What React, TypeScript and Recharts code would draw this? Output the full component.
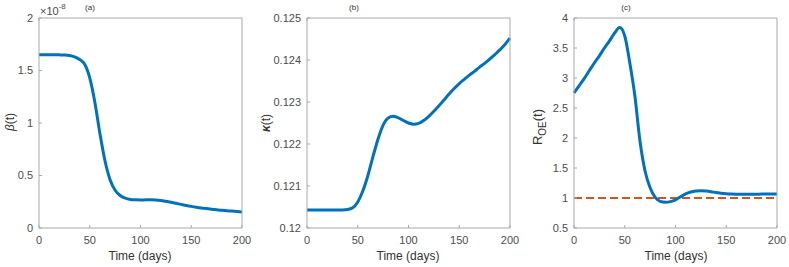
import React from 'react';
import { LineChart, Line, XAxis, YAxis, ReferenceLine } from 'recharts';

// ---- data ----
const days = [0, 5, 10, 15, 20, 25, 30, 35, 40, 45, 50, 55, 60, 65, 70, 75, 80, 85, 90, 95, 100, 105, 110, 115, 120, 125, 130, 135, 140, 145, 150, 155, 160, 165, 170, 175, 180, 185, 190, 195, 200];
// beta(t) in units of 1e-8
const betaScaled = [1.65, 1.65, 1.65, 1.65, 1.649, 1.647, 1.642, 1.63, 1.605, 1.56, 1.43, 1.2, 0.9, 0.64, 0.46, 0.36, 0.31, 0.285, 0.272, 0.268, 0.267, 0.268, 0.269, 0.267, 0.262, 0.254, 0.245, 0.235, 0.225, 0.215, 0.206, 0.198, 0.191, 0.185, 0.179, 0.174, 0.169, 0.165, 0.161, 0.157, 0.153];
const kappa = [0.12043, 0.12043, 0.12043, 0.12043, 0.12043, 0.12043, 0.12043, 0.12043, 0.12044, 0.12048, 0.12062, 0.12088, 0.12125, 0.1217, 0.12212, 0.12245, 0.12262, 0.12266, 0.12262, 0.12256, 0.1225, 0.12247, 0.12249, 0.12256, 0.12266, 0.12278, 0.12291, 0.12305, 0.12319, 0.12332, 0.12344, 0.12354, 0.12364, 0.12373, 0.12383, 0.12392, 0.12402, 0.12413, 0.12424, 0.12437, 0.12452];
const rOE = [2.75, 2.87, 2.99, 3.12, 3.25, 3.37, 3.5, 3.62, 3.75, 3.84, 3.7, 3.25, 2.7, 1.95, 1.45, 1.17, 1.01, 0.945, 0.93, 0.94, 0.97, 1.02, 1.07, 1.1, 1.115, 1.12, 1.115, 1.105, 1.09, 1.08, 1.072, 1.066, 1.063, 1.062, 1.062, 1.063, 1.064, 1.065, 1.066, 1.066, 1.065];
const threshold = 1;

const xTicks = [0, 50, 100, 150, 200];
const betaTicks = [0, 0.5, 1, 1.5, 2];
const kappaTicks = [0.12, 0.121, 0.122, 0.123, 0.124, 0.125];
const rTicks = [0.5, 1, 1.5, 2, 2.5, 3, 3.5, 4];

const betaData = days.map((d, i) => ({ day: d, v: betaScaled[i] }));
const kappaData = days.map((d, i) => ({ day: d, v: kappa[i] }));
const rData = days.map((d, i) => ({ day: d, v: rOE[i] }));

// ---- styles ----
const AXIS = '#a9a9a9';
const TICK_TEXT = '#4d4d4d';
const BLUE = '#0072BD';
const ORANGE = '#D95319';
const FONT = '"Liberation Sans", Arial, Helvetica, sans-serif';

type PanelProps = {
  data: { day: number; v: number }[];
  yDomain: [number, number];
  yTicks: number[];
  left: number;
  plotLeft: number;
  plotRight: number;
  refY?: number;
};

const tickStyle = { fill: TICK_TEXT, fontSize: 11, fontFamily: FONT };
const W = 263;
const H = 267;
const TOP = 18;
const BOTTOM = 39;

function Panel({ data, yDomain, yTicks, left, plotLeft, plotRight, refY }: PanelProps) {
  return (
    <div style={{ position: 'absolute', left, top: 0 }}>
      <LineChart width={W} height={H} data={data} margin={{ top: 0, right: 0, bottom: 0, left: 0 }}>
        <XAxis
          xAxisId="b"
          dataKey="day"
          type="number"
          domain={[0, 200]}
          ticks={xTicks}
          height={BOTTOM}
          stroke={AXIS}
          tickSize={-3}
          tickMargin={11}
          tick={tickStyle}
          interval={0}
        />
        <XAxis
          xAxisId="t"
          orientation="top"
          type="number"
          domain={[0, 200]}
          ticks={xTicks}
          height={TOP}
          stroke={AXIS}
          tickSize={-3}
          tickFormatter={() => ''}
          interval={0}
        />
        <YAxis
          yAxisId="l"
          type="number"
          domain={yDomain}
          ticks={yTicks}
          width={plotLeft}
          stroke={AXIS}
          tickSize={-3}
          tickMargin={9}
          tick={tickStyle}
          interval={0}
        />
        <YAxis
          yAxisId="r"
          orientation="right"
          type="number"
          domain={yDomain}
          ticks={yTicks}
          width={W - plotRight}
          stroke={AXIS}
          tickSize={-3}
          tickFormatter={() => ''}
          interval={0}
        />
        {refY !== undefined && (
          <ReferenceLine
            xAxisId="b"
            yAxisId="l"
            y={refY}
            stroke={ORANGE}
            strokeWidth={2}
            strokeDasharray="8 4"
          />
        )}
        <Line
          xAxisId="b"
          yAxisId="l"
          type="monotone"
          dataKey="v"
          stroke={BLUE}
          strokeWidth={3}
          dot={false}
          isAnimationActive={false}
        />
      </LineChart>
    </div>
  );
}

export default function App() {
  return (
    <div style={{ position: 'absolute', left: 0, top: 0, width: 789, height: 267, background: '#fff', fontFamily: FONT }}>
      <Panel data={betaData} yDomain={[0, 2]} yTicks={betaTicks} left={0} plotLeft={39} plotRight={242} />
      <Panel data={kappaData} yDomain={[0.12, 0.125]} yTicks={kappaTicks} left={263} plotLeft={44} plotRight={247} />
      <Panel data={rData} yDomain={[0.5, 4]} yTicks={rTicks} left={526} plotLeft={48} plotRight={251} refY={threshold} />
      <svg width={789} height={267} style={{ position: 'absolute', left: 0, top: 0, pointerEvents: 'none' }}>
        <g fontFamily={FONT} fill="#333">
          <text x={90} y={10} fontSize={8} textAnchor="middle">(a)</text>
          <text x={354} y={10} fontSize={8} textAnchor="middle">(b)</text>
          <text x={626} y={10} fontSize={8} textAnchor="middle">(c)</text>
          <text x={40} y={15} fontSize={11} fill={TICK_TEXT}>
            ×10<tspan dy={-6} fontSize={8}>-8</tspan>
          </text>
          <text x={140} y={259.5} fontSize={12} textAnchor="middle">Time (days)</text>
          <text x={408} y={259.5} fontSize={12} textAnchor="middle">Time (days)</text>
          <text x={676} y={259.5} fontSize={12} textAnchor="middle">Time (days)</text>
          <text transform="translate(14,122) rotate(-90)" fontSize={12} textAnchor="middle">
            <tspan fontStyle="italic">β</tspan>(t)
          </text>
          <text transform="translate(270,123) rotate(-90)" fontSize={12} textAnchor="middle">
            <tspan fontWeight="bold" fontStyle="italic">κ</tspan>(t)
          </text>
          <text transform="translate(542,127) rotate(-90)" fontSize={13} textAnchor="middle">
            R<tspan dy={4} fontSize={10}>OE</tspan><tspan dy={-4}>(t)</tspan>
          </text>
        </g>
      </svg>
    </div>
  );
}
